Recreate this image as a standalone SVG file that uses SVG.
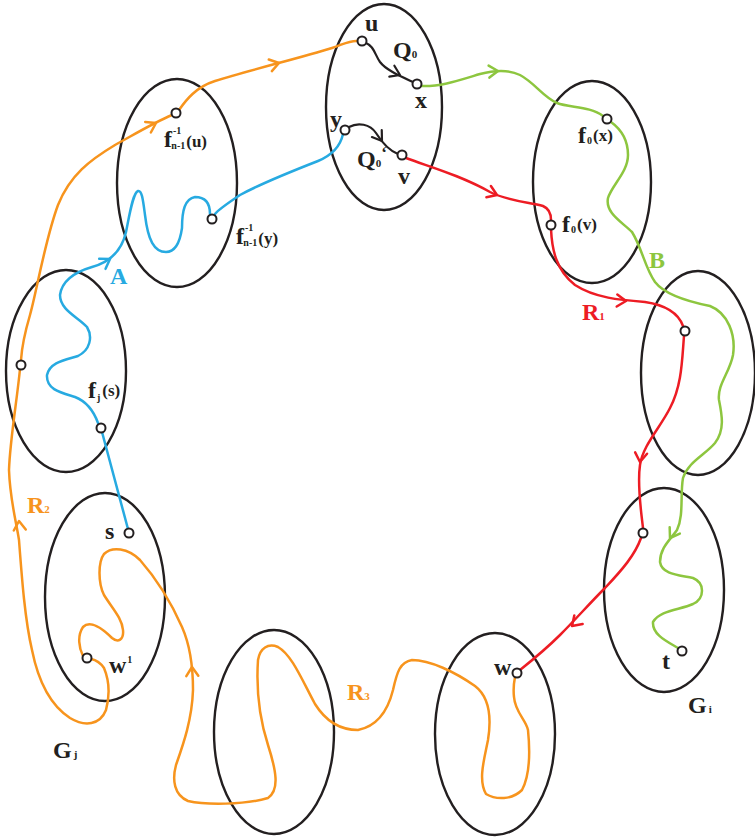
<svg xmlns="http://www.w3.org/2000/svg" xmlns:xlink="http://www.w3.org/1999/xlink" width="755" height="838" viewBox="0 0 755 838">
  <style>
    .blob { fill: none; stroke: #231F20; stroke-width: 2.4; }
    .pt { fill: #fff; stroke: #231F20; stroke-width: 2; }
    .path { fill: none; stroke-width: 2.5; stroke-linecap: round; stroke-linejoin: round; }
    .or { stroke: #F7941D; }
    .bl { stroke: #27AAE1; }
    .gr { stroke: #8DC63F; }
    .rd { stroke: #ED1C24; }
    .bk { stroke: #231F20; stroke-width: 2.2; }
    text { font-family: "Liberation Serif", "DejaVu Serif", serif; font-weight: bold; fill: #231F20; }
    .big { font-size: 24px; }
    .mid { font-size: 17px; }
    .tiny { font-size: 10px; }
    .sub { font-size: 11px; }
  </style>
  <defs>
    <path id="ah" d="M-9,-6 L0,0 L-9,6" fill="none" stroke-linecap="round" stroke-linejoin="round"/>
  </defs>

  <!-- vertex sets -->
  <g id="set-top"><ellipse class="blob" cx="384" cy="107" rx="58" ry="103"/></g>
  <g id="set-upper-left"><ellipse class="blob" cx="177" cy="183" rx="60" ry="104"/></g>
  <g id="set-upper-right"><ellipse class="blob" cx="592" cy="182" rx="59" ry="101"/></g>
  <g id="set-mid-left"><ellipse class="blob" cx="66" cy="371" rx="60" ry="101"/></g>
  <g id="set-mid-right"><ellipse class="blob" cx="698" cy="373" rx="57" ry="102"/></g>
  <g id="set-Gj"><ellipse class="blob" cx="105" cy="597" rx="60" ry="104"/></g>
  <g id="set-Gi"><ellipse class="blob" cx="664" cy="590" rx="60" ry="102"/></g>
  <g id="set-bottom-left"><ellipse class="blob" cx="274" cy="732" rx="60" ry="102"/></g>
  <g id="set-bottom-right"><ellipse class="blob" cx="495" cy="734" rx="60" ry="101"/></g>

  <!-- connectors -->
  <g id="connectors">
    <!-- Q0 and Q0' -->
    <path class="path bk" d="M366,43 C374,46 375,55 380,62 C386,70 400,76 413,82"/>
    <use xlink:href="#ah" style="stroke:#231F20;stroke-width:2.2" transform="translate(400,75) rotate(25)"/>
    <path class="path bk" d="M349,127 C358,122 370,124 376,133 C381,141 388,150 398,154"/>
    <use xlink:href="#ah" style="stroke:#231F20;stroke-width:2.2" transform="translate(382,141) rotate(55)"/>

    <!-- orange route R -->
    <path class="path or" d="M358,41 C350,40 344,44 332,48 C300,58 250,70 215,81 C196,87 186,100 179,110"/>
    <use xlink:href="#ah" style="stroke:#F7941D;stroke-width:2.5" transform="translate(279,63) rotate(-15)"/>
    <path class="path or" d="M172,115 C155,122 135,134 115,145 C90,160 70,175 58,205 C45,240 37,290 30,315 C25,332 22,345 21,360"/>
    <use xlink:href="#ah" style="stroke:#F7941D;stroke-width:2.5" transform="translate(156,123) rotate(-28)"/>
    <path class="path or" d="M20,369 C17,400 10,440 9,470 C10,500 16,520 19,540 C22,580 25,620 32,650 C38,680 50,705 70,718 C85,727 100,725 106,710 C110,695 109,680 104,668 C100,662 96,660 91,659"/>
    <use xlink:href="#ah" style="stroke:#F7941D;stroke-width:2.5" transform="translate(19,521) rotate(-95)"/>
    <path class="path or" d="M83,656 C79,648 77,636 83,627 C90,620 102,628 112,638 C118,643 124,640 123,630 C122,618 112,608 104,595 C98,583 98,562 104,554 C112,546 128,548 140,560 C155,577 170,600 182,627 C190,645 193,665 193,690 C192,720 183,745 176,765 C172,780 174,795 188,801 C205,805 245,805 268,798 C280,790 276,770 268,745 C260,720 256,690 258,660 C260,648 268,643 278,647 C292,655 302,680 315,704 C325,720 340,730 358,730 C378,726 388,710 393,690 C397,672 400,662 412,660 C430,660 455,672 475,686 C488,696 492,715 488,740 C484,760 478,780 486,794 C496,800 512,800 522,790 C530,775 530,750 528,730 C526,720 515,712 514,697 C513,688 514,682 515,677"/>
    <use xlink:href="#ah" style="stroke:#F7941D;stroke-width:2.5" transform="translate(192,667) rotate(-92)"/>

    <!-- blue route A -->
    <path class="path bl" d="M343,134 C340,148 330,156 318,161 C295,170 262,183 240,195 C228,203 218,210 215,214"/>
    <path class="path bl" d="M210,214 C210,203 205,197 195,197 C185,199 182,210 182,228 C180,242 176,252 166,252 C154,252 148,240 145,215 C143,200 142,190 138,191 C133,193 130,212 126,232 C122,250 110,262 92,267 C75,272 62,280 60,295 C60,310 78,317 87,327 C93,337 90,350 78,356 C65,360 50,362 47,375 C46,390 62,393 75,397 C88,402 94,412 98,423"/>
    <use xlink:href="#ah" style="stroke:#27AAE1;stroke-width:2.5" transform="translate(110,259) rotate(-32)"/>
    <path class="path bl" d="M102,432 L128,529"/>

    <!-- green route B -->
    <path class="path gr" d="M421,86 C440,87 460,80 480,74 C495,70 510,70 520,75 C535,83 543,97 557,103 C570,108 590,106 603,116"/>
    <use xlink:href="#ah" style="stroke:#8DC63F;stroke-width:2.5" transform="translate(498,71) rotate(-4)"/>
    <path class="path gr" d="M611,122 C622,130 628,140 628,155 C628,172 612,185 608,198 C605,213 622,222 632,232 C642,248 645,268 655,282 C665,295 690,302 710,306 C728,313 736,335 733,355 C730,372 717,385 719,400 C722,415 725,430 715,443 C705,455 688,462 683,478 C680,495 684,515 677,530 C670,540 660,548 660,562 C662,575 680,575 693,578 C705,583 705,598 693,604 C680,610 660,610 653,622 C652,635 668,642 678,648"/>
    <use xlink:href="#ah" style="stroke:#8DC63F;stroke-width:2.5" transform="translate(670,538) rotate(122)"/>

    <!-- red route R1 -->
    <path class="path rd" d="M406,158 C430,167 460,175 490,192 C510,202 530,202 543,206 C550,209 551,215 551,220"/>
    <use xlink:href="#ah" style="stroke:#ED1C24;stroke-width:2.5" transform="translate(497,195) rotate(22)"/>
    <path class="path rd" d="M551,229 C552,250 556,270 575,285 C595,298 620,300 645,302 C665,305 678,312 683,326"/>
    <use xlink:href="#ah" style="stroke:#ED1C24;stroke-width:2.5" transform="translate(626,301) rotate(3)"/>
    <path class="path rd" d="M684,336 C682,360 682,385 670,408 C660,428 643,445 640,465 C637,485 641,510 643,528"/>
    <use xlink:href="#ah" style="stroke:#ED1C24;stroke-width:2.5" transform="translate(640,462) rotate(97)"/>
    <path class="path rd" d="M641,538 C635,555 622,570 605,588 C590,603 575,620 560,635 C545,650 530,662 520,670"/>
    <use xlink:href="#ah" style="stroke:#ED1C24;stroke-width:2.5" transform="translate(572,626) rotate(136)"/>

    <!-- route names -->
    <text class="big" x="110" y="284" style="fill:#27AAE1">A</text>
    <text class="big" x="649" y="268" style="fill:#8DC63F">B</text>
    <text class="big" x="582" y="320" style="fill:#ED1C24">R<tspan class="sub">1</tspan></text>
    <text class="big" x="27" y="513" style="fill:#F7941D">R<tspan class="sub">2</tspan></text>
    <text class="big" x="347" y="700" style="fill:#F7941D">R<tspan class="sub">3</tspan></text>
  </g>

  <!-- vertices -->
  <g id="v-u"><circle class="pt" cx="362" cy="41" r="4.5"/><text class="big" x="365" y="31">u</text></g>
  <g id="v-x"><circle class="pt" cx="417" cy="84" r="4.5"/><text class="big" x="415" y="108">x</text></g>
  <g id="v-y"><circle class="pt" cx="345" cy="130" r="4.5"/><text class="big" x="330" y="127">y</text></g>
  <g id="v-v"><circle class="pt" cx="402" cy="155" r="4.5"/><text class="big" x="398" y="184">v</text></g>
  <g id="lbl-Q0"><text class="big" x="393" y="58">Q<tspan class="sub">0</tspan></text></g>
  <g id="lbl-Q0p"><text class="big" x="357" y="167">Q<tspan class="sub">0</tspan><tspan class="mid" dx="0" dy="-9">‘</tspan></text></g>
  <g id="v-finv-u"><circle class="pt" cx="176" cy="113" r="4.5"/>
    <text class="big" x="164" y="147">f<tspan class="tiny" dx="1" dy="-13">-1</tspan><tspan class="tiny" dx="-10" dy="15">n-1</tspan><tspan class="mid" dx="1" dy="-2">(u)</tspan></text></g>
  <g id="v-finv-y"><circle class="pt" cx="212" cy="219" r="4.5"/>
    <text class="big" x="236" y="244">f<tspan class="tiny" dx="1" dy="-13">-1</tspan><tspan class="tiny" dx="-10" dy="15">n-1</tspan><tspan class="mid" dx="1" dy="-2">(y)</tspan></text></g>
  <g id="v-f0x"><circle class="pt" cx="607" cy="119" r="4.5"/>
    <text class="big" x="578" y="143">f<tspan class="tiny" dx="1" dy="1">0</tspan><tspan class="mid" dx="1" dy="-3">(x)</tspan></text></g>
  <g id="v-f0v"><circle class="pt" cx="551" cy="225" r="4.5"/>
    <text class="big" x="562" y="232">f<tspan class="tiny" dx="1" dy="1">0</tspan><tspan class="mid" dx="1" dy="-3">(v)</tspan></text></g>
  <g id="v-mid-left"><circle class="pt" cx="21" cy="365" r="4.5"/></g>
  <g id="v-fjs"><circle class="pt" cx="101" cy="428" r="4.5"/>
    <text class="big" x="88" y="398">f<tspan class="tiny" dx="1" dy="3">j</tspan><tspan class="mid" dx="2" dy="-5">(s)</tspan></text></g>
  <g id="v-mid-right"><circle class="pt" cx="685" cy="331" r="4.5"/></g>
  <g id="v-Gi-entry"><circle class="pt" cx="643" cy="533" r="4.5"/></g>
  <g id="v-t"><circle class="pt" cx="682" cy="651" r="4.5"/><text class="big" x="662" y="669">t</text></g>
  <g id="v-s"><circle class="pt" cx="129" cy="533" r="4.5"/><text class="big" x="105" y="539">s</text></g>
  <g id="v-w1"><circle class="pt" cx="87" cy="658" r="4.5"/><text class="big" x="109" y="673">w<tspan class="tiny" dx="1" dy="-10">1</tspan></text></g>
  <g id="v-w"><circle class="pt" cx="517" cy="673" r="4.5"/><text class="big" x="494" y="675">w</text></g>
  <g id="lbl-Gj"><text class="big" x="53" y="758">G<tspan class="sub" dx="2">j</tspan></text></g>
  <g id="lbl-Gi"><text class="big" x="688" y="713">G<tspan class="sub" dx="2">i</tspan></text></g>
</svg>
